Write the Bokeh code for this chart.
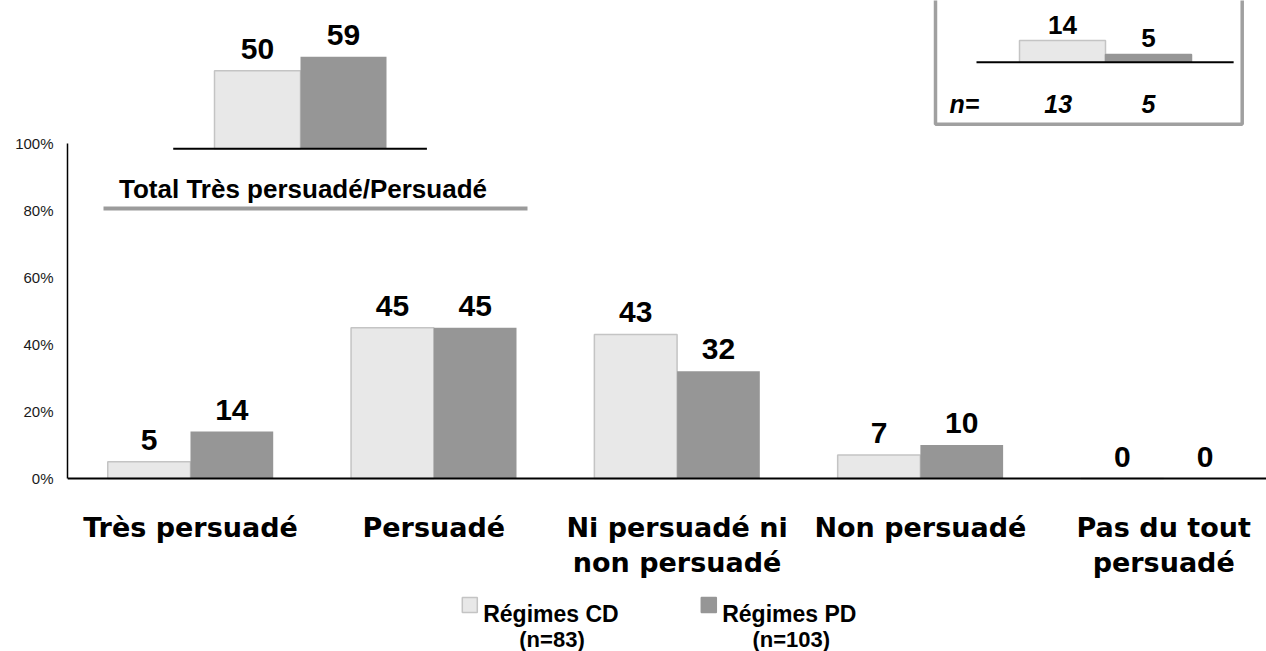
import numpy as np
from bokeh.plotting import figure
from bokeh.models import Range1d, FixedTicker, Span
from bokeh.core.properties import value
from bokeh.embed import file_html
from bokeh.resources import INLINE

# ---------------- data ----------------
categories = ["Très persuadé", "Persuadé", "Ni persuadé ni\nnon persuadé",
              "Non persuadé", "Pas du tout\npersuadé"]
cd_values = [5, 45, 43, 7, 0]
pd_values = [14, 45, 32, 10, 0]
series_names = ["Régimes CD", "Régimes PD"]
series_n = ["(n=83)", "(n=103)"]
y_ticks = [0, 20, 40, 60, 80, 100]
y_tick_labels = ["0%", "20%", "40%", "60%", "80%", "100%"]

total_title = "Total Très persuadé/Persuadé"
total_cd = [50]
total_pd = [59]

inset_values = [14, 5]
inset_n_label = "n="
inset_n = [13, 5]

# ---------------- style ----------------
CD_FILL, CD_LINE = "#E8E8E8", "#C4C4C4"
PD_FILL = "#969696"
BOX_GRAY = "#A0A0A0"

OFF = 0             # page offset of the canvas
W, H = 1266, 651
LEFT = 67
FW = W - LEFT
UX = 243.3          # px per category
XS = -0.0055
UY = 3.35           # px per percent (main)
BASE_CY = 478       # canvas y of 0%


def px2x(page_x):
    return XS + (page_x - OFF - LEFT) / UX


def py2y(page_y):
    return (BASE_CY - (page_y - OFF)) / UY


p = figure(width=W, height=H, output_backend="svg", toolbar_location=None,
           x_range=Range1d(XS, XS + FW / UX),
           y_range=Range1d((BASE_CY - H) / UY, BASE_CY / UY),
           x_axis_location=None, y_axis_location="left",
           min_border=0, min_border_left=LEFT)
p.outline_line_color = None
p.grid.visible = False
p.background_fill_color = "white"

# inset ranges
TL_U, TL_X0, TL_VY, TL_BASE = 86.0, 257.0, 1.56, 148.3 - OFF
TR_U, TR_X0, TR_VY, TR_BASE = 86.0, 1062.0, 1.55, 61.7 - OFF
x_left_page = LEFT + OFF
p.extra_x_ranges = {
    "tl": Range1d((x_left_page - TL_X0) / TL_U, (x_left_page - TL_X0) / TL_U + FW / TL_U),
    "tr": Range1d((x_left_page - TR_X0) / TR_U, (x_left_page - TR_X0) / TR_U + FW / TR_U),
}
p.extra_y_ranges = {
    "tl": Range1d(-(H - TL_BASE) / TL_VY, TL_BASE / TL_VY),
    "tr": Range1d(-(H - TR_BASE) / TR_VY, TR_BASE / TR_VY),
}

# y axis
ax = p.yaxis[0]
ax.ticker = FixedTicker(ticks=y_ticks)
ax.major_label_overrides = {t: l for t, l in zip(y_ticks, y_tick_labels)}
ax.bounds = (0, 100)
ax.axis_line_color = "black"
ax.axis_line_width = 1.5
ax.major_tick_line_color = None
ax.minor_tick_line_color = None
ax.major_tick_out = 0
ax.major_tick_in = 0
ax.major_label_standoff = 14
ax.major_label_text_font = "Liberation Sans"
ax.major_label_text_font_size = "15px"
ax.major_label_text_color = "#1a1a1a"

# ---------------- main bars ----------------
x_idx = np.arange(len(categories)) + 0.5
BW = 0.34
p.vbar(x=x_idx - BW / 2, top=cd_values, bottom=0, width=BW,
       fill_color=CD_FILL, line_color=CD_LINE, line_width=1.5)
p.vbar(x=x_idx + BW / 2, top=pd_values, bottom=0, width=BW,
       fill_color=PD_FILL, line_color=None)
p.add_layout(Span(location=0, dimension="width", line_color="black", line_width=2))

num_font = dict(text_font=value("Liberation Sans"), text_font_style="bold",
                text_color="black", text_align="center", text_baseline="alphabetic")
p.text(x=x_idx - BW / 2, y=cd_values, text=[str(v) for v in cd_values],
       y_offset=-22, text_font_size="30px", **num_font)
p.text(x=x_idx + BW / 2, y=pd_values, text=[str(v) for v in pd_values],
       y_offset=-22, text_font_size="30px", **num_font)

# category labels
lab_x, lab_y, lab_t = [], [], []
for i, c in enumerate(categories):
    for k, line in enumerate(c.split("\n")):
        lab_x.append(x_idx[i])
        lab_y.append(py2y(527 + 35 * k))
        lab_t.append(line)
p.text(x=lab_x, y=lab_y, text=lab_t, text_font=value("DejaVu Sans"),
       text_font_style="bold", text_font_size="27px", text_color="black",
       text_align="center", text_baseline="alphabetic")

# ---------------- top-left inset ----------------
p.vbar(x=[0], top=total_cd, bottom=0, width=1, x_range_name="tl", y_range_name="tl",
       fill_color=CD_FILL, line_color=CD_LINE, line_width=1.5)
p.vbar(x=[1], top=total_pd, bottom=0, width=1, x_range_name="tl", y_range_name="tl",
       fill_color=PD_FILL, line_color=None)
p.segment(x0=[-0.98], y0=[0], x1=[1.97], y1=[0], x_range_name="tl", y_range_name="tl",
          line_color="black", line_width=2)
p.text(x=[0, 1], y=total_cd + total_pd, text=[str(v) for v in total_cd + total_pd],
       x_range_name="tl", y_range_name="tl", y_offset=-22, text_font_size="30px", **num_font)
p.text(x=[px2x(302.5)], y=[py2y(188.3)], text=[total_title],
       text_font=value("Liberation Sans"), text_font_style="bold", text_font_size="26px",
       text_color="black", text_align="center", text_baseline="alphabetic")
p.segment(x0=[px2x(103)], y0=[py2y(208)], x1=[px2x(527)], y1=[py2y(208)],
          line_color="#9B9B9B", line_width=4)

# ---------------- top-right inset ----------------
p.quad(left=[px2x(935)], right=[px2x(1241.7)], bottom=[py2y(123.7)], top=[py2y(-30)],
       fill_color=None, line_color=BOX_GRAY, line_width=3.5)
p.vbar(x=[0, 1], top=inset_values, bottom=0, width=1, x_range_name="tr", y_range_name="tr",
       fill_color=[CD_FILL, PD_FILL], line_color=[CD_LINE, PD_FILL], line_width=1.5)
p.segment(x0=[-1.0], y0=[0], x1=[1.99], y1=[0], x_range_name="tr", y_range_name="tr",
          line_color="black", line_width=2)
p.text(x=[0, 1], y=inset_values, text=[str(v) for v in inset_values],
       x_range_name="tr", y_range_name="tr", y_offset=-16, text_font_size="26px", **num_font)
p.text(x=[-0.05, 1.0], y=[0, 0], text=[str(v) for v in inset_n],
       x_range_name="tr", y_range_name="tr", y_offset=41.3,
       text_font=value("Liberation Sans"), text_font_style="bold italic",
       text_font_size="25px", text_color="black", text_align="center",
       text_baseline="alphabetic")
p.text(x=[px2x(949)], y=[py2y(103)], text=[inset_n_label],
       text_font=value("Liberation Sans"), text_font_style="bold italic",
       text_font_size="25px", text_color="black", text_align="left",
       text_baseline="alphabetic")

# ---------------- legend ----------------
p.rect(x=[px2x(469.3), px2x(708.3)], y=[py2y(604.5), py2y(604.5)], width=15, height=15,
       width_units="screen", height_units="screen",
       fill_color=[CD_FILL, PD_FILL], line_color=[CD_LINE, PD_FILL], line_width=1.5)
p.text(x=[px2x(482.7), px2x(721.7)], y=[py2y(613), py2y(613)], text=series_names,
       text_font=value("Liberation Sans"), text_font_style="bold", text_font_size="23px",
       text_color="black", text_align="left", text_baseline="alphabetic")
p.text(x=[px2x(551.5), px2x(790.8)], y=[py2y(639), py2y(639)], text=series_n,
       text_font=value("Liberation Sans"), text_font_style="bold", text_font_size="22px",
       text_color="black", text_align="center", text_baseline="alphabetic")

open("out.html", "w").write(file_html(p, INLINE))
